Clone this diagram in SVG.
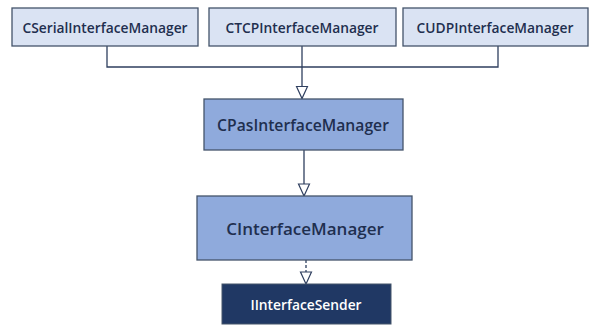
<svg xmlns="http://www.w3.org/2000/svg" width="590" height="325" viewBox="0 0 590 325">
<defs>
<style>
.top rect{fill:#dae3f3;stroke:#44546a;stroke-width:1.3}
.mid rect{fill:#8faadc;stroke:#44546a;stroke-width:1.3}
.dark rect{fill:#203864;stroke:#44546a;stroke-width:1}
text{font-family:"Open Sans","Noto Sans",sans-serif;text-anchor:middle;dominant-baseline:central;fill:#1f2f4f;font-weight:600}
.top text{font-size:13.8px}
.dark text{fill:#ffffff;font-size:13.8px}
.conn path{fill:none;stroke:#2f3f5f;stroke-width:1.3}
.conn .dash{stroke-dasharray:3 2}
</style>
<marker id="tri" markerWidth="14" markerHeight="14" viewBox="0 0 14 14" refX="13" refY="7" orient="auto" markerUnits="userSpaceOnUse">
<path d="M1,1.5 L13,7 L1,12.5 Z" fill="#ffffff" stroke="#2f3f5f" stroke-width="1.2"/>
</marker>
</defs>
<rect width="590" height="325" fill="#ffffff"/>
<g id="conn" class="conn">
<path d="M107,46 V67 H498 V46"/>
<path d="M302,46 V98.5" marker-end="url(#tri)"/>
<path d="M304,150 V196" marker-end="url(#tri)"/>
<path class="dash" d="M306,260 V284" marker-end="url(#tri)"/>
</g>
<g id="serial" class="top">
<rect x="12" y="8" width="186" height="38"/>
<text x="105" y="27">CSerialInterfaceManager</text>
</g>
<g id="tcp" class="top">
<rect x="209" y="8" width="187" height="38"/>
<text x="302" y="27">CTCPInterfaceManager</text>
</g>
<g id="udp" class="top">
<rect x="403" y="8" width="185" height="38"/>
<text x="495" y="27">CUDPInterfaceManager</text>
</g>
<g id="pas" class="mid">
<rect x="204" y="99" width="199" height="51"/>
<text x="303" y="125" style="font-size:15.7px">CPasInterfaceManager</text>
</g>
<g id="iface" class="mid">
<rect x="197" y="196" width="215" height="64"/>
<text x="305" y="228" style="font-size:17px">CInterfaceManager</text>
</g>
<g id="sender" class="dark">
<rect x="222" y="284" width="169" height="40"/>
<text x="306" y="304">IInterfaceSender</text>
</g>
</svg>
